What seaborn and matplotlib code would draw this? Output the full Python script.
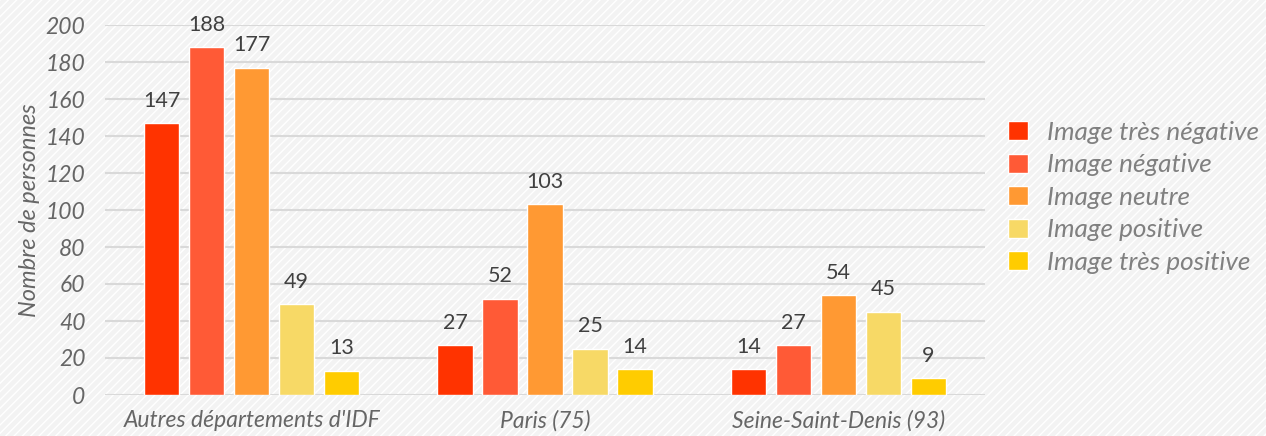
import pandas as pd
import matplotlib.pyplot as plt
import seaborn as sns

# === DATA ===
zones = ["Autres départements d'IDF", "Paris (75)", "Seine-Saint-Denis (93)"]
images = ["Image très négative", "Image négative", "Image neutre",
          "Image positive", "Image très positive"]
tres_negative = [147, 27, 14]
negative = [188, 52, 27]
neutre = [177, 103, 54]
positive = [49, 25, 45]
tres_positive = [13, 14, 9]

colors = ["#FF3300", "#FF5A36", "#FF9933", "#F7D966", "#FFCC00"]


def build_df():
    series = [tres_negative, negative, neutre, positive, tres_positive]
    rows = []
    for img, vals in zip(images, series):
        for z, v in zip(zones, vals):
            rows.append({"zone": z, "image": img, "n": v})
    return pd.DataFrame(rows)


def plot():
    df = build_df()
    sns.set_theme(style="white")
    plt.rcParams['font.family'] = ['Lato', 'DejaVu Sans']
    plt.rcParams['hatch.color'] = 'white'
    plt.rcParams['hatch.linewidth'] = 1.0

    fig = plt.figure(figsize=(12.66, 4.36), dpi=100)
    fig.patch.set_facecolor('#F3F3F3')
    fig.patch.set_hatch('////')
    ax = fig.add_axes([105 / 1266, 1 - 395 / 436, 880 / 1266, 370 / 436])
    ax.set_facecolor('none')

    sns.barplot(data=df, x="zone", y="n", hue="image", hue_order=images,
                order=zones, palette=colors, width=0.767, gap=0.215,
                saturation=1, ax=ax, legend=True)

    for cont in ax.containers:
        ax.bar_label(cont, padding=9, fontsize=15.5, color='#404040')

    ax.set_xlim(-0.5, 2.5)
    ax.set_ylim(0, 200)
    ax.set_yticks(range(0, 201, 20))
    ax.yaxis.grid(True, color='#D9D9D9', linewidth=1.5)
    ax.set_axisbelow(True)
    for s in ax.spines.values():
        s.set_visible(False)
    ax.tick_params(axis='both', length=0, labelsize=16.5, labelcolor='#666666')
    ax.tick_params(axis='y', pad=14)
    ax.tick_params(axis='x', pad=11)
    for t in ax.get_xticklabels() + ax.get_yticklabels():
        t.set_fontstyle('italic')
    ax.set_xlabel("")
    ax.set_ylabel("Nombre de personnes", fontsize=17, color='#666666',
                  fontstyle='italic', labelpad=4)

    handles, labels = ax.get_legend_handles_labels()
    ax.legend(handles, labels, loc='upper left',
              bbox_to_anchor=(1008 / 1266, 1 - 121 / 436),
              bbox_transform=fig.transFigure, frameon=False,
              borderaxespad=0, borderpad=0,
              handlelength=0.75, handleheight=0.75, handletextpad=0.76,
              labelspacing=0.36, prop={'size': 18.8, 'style': 'italic'},
              labelcolor='#808080')

    fig.savefig("out.png", dpi=100, facecolor=fig.get_facecolor())


if __name__ == "__main__":
    plot()
